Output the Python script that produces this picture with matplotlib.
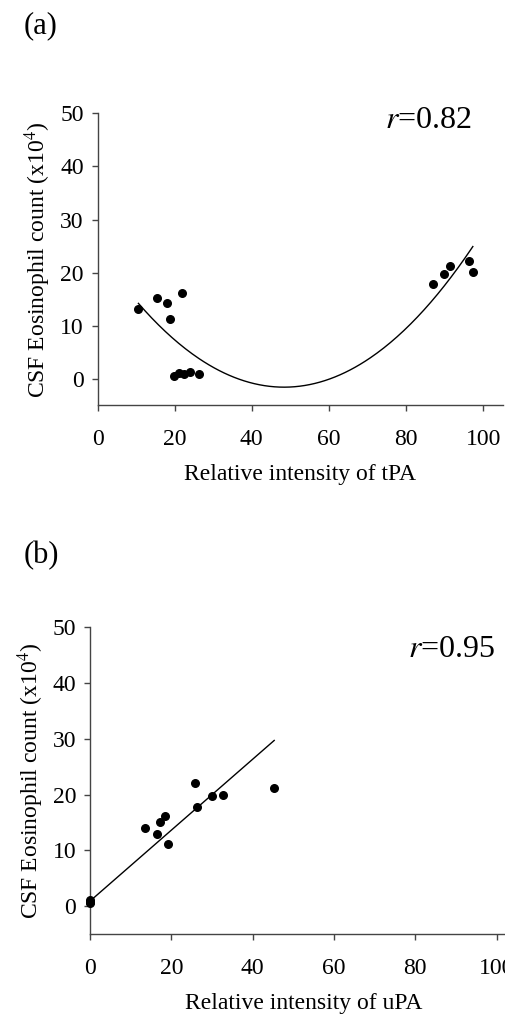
import numpy as np
import matplotlib
matplotlib.use('Agg')
import matplotlib.pyplot as plt

plt.rcParams['font.family'] = ['Liberation Serif', 'DejaVu Serif']
plt.rcParams['mathtext.fontset'] = 'stix'

# (a) tPA vs eosinophil count
tpa_x = [10.6, 15.5, 18.0, 18.7, 21.9, 19.8, 21.2, 22.5, 24.0, 26.4,
         86.9, 89.7, 91.3, 96.3, 97.3]
tpa_y = [13.1, 15.2, 14.2, 11.2, 16.2, 0.6, 1.1, 0.8, 1.2, 0.9,
         17.9, 19.8, 21.3, 22.1, 20.2]

# (b) uPA vs eosinophil count
upa_x = [0, 0, 0, 13.5, 16.4, 17.2, 18.5, 19.2, 25.9, 26.4, 30.1, 32.6, 45.3]
upa_y = [1.1, 0.5, 0.8, 14.1, 13.0, 15.1, 16.1, 11.1, 22.0, 17.8, 19.7, 20.0, 21.2]
# trend line as drawn in the figure (slope, intercept)
upa_fit = [0.636, 0.9]

yticks = [0, 10, 20, 30, 40, 50]
xticks = [0, 20, 40, 60, 80, 100]

fig = plt.figure(figsize=(5.05, 10.19), dpi=100)
ax1 = fig.add_axes([0.1931, 0.6023, 0.802, 0.2864])
ax2 = fig.add_axes([0.1782, 0.0834, 0.8455, 0.301])

spine_col = '#444444'


def style(ax):
    ax.spines['top'].set_visible(False)
    ax.spines['right'].set_visible(False)
    for s in ['left', 'bottom']:
        ax.spines[s].set_color(spine_col)
        ax.spines[s].set_linewidth(1.0)
    ax.set_xlim(0, 105)
    ax.set_ylim(-5, 50)
    ax.set_xticks(xticks)
    ax.set_yticks(yticks)
    ax.tick_params(direction='out', length=4, width=1, color=spine_col,
                   labelsize=17)
    ax.tick_params(axis='x', pad=13)
    ax.tick_params(axis='y', pad=6)
    ax.set_ylabel('CSF Eosinophil count (x10$^4$)', fontsize=17, labelpad=5)


# panel a: quadratic fit
style(ax1)
ax1.scatter(tpa_x, tpa_y, s=30, color='black', zorder=3, clip_on=False)
c2 = np.polyfit(tpa_x, tpa_y, 2)
xx = np.linspace(min(tpa_x), max(tpa_x), 200)
ax1.plot(xx, np.polyval(c2, xx), color='black', lw=1.0)
ax1.set_xlabel('Relative intensity of tPA', fontsize=17, labelpad=10)
ax1.text(0.71, 0.95, '$r$=0.82', transform=ax1.transAxes, fontsize=23)

# panel b: linear trend
style(ax2)
ax2.scatter(upa_x, upa_y, s=30, color='black', zorder=3, clip_on=False)
xx = np.array([min(upa_x), max(upa_x)])
ax2.plot(xx, np.polyval(upa_fit, xx), color='black', lw=1.0)
ax2.set_xlabel('Relative intensity of uPA', fontsize=17, labelpad=10)
ax2.text(0.745, 0.903, '$r$=0.95', transform=ax2.transAxes, fontsize=23)

fig.text(24 / 505, 1 - 33 / 1019, '(a)', fontsize=22)
fig.text(24 / 505, 1 - 563 / 1019, '(b)', fontsize=22)

fig.savefig('out.png', dpi=100)
